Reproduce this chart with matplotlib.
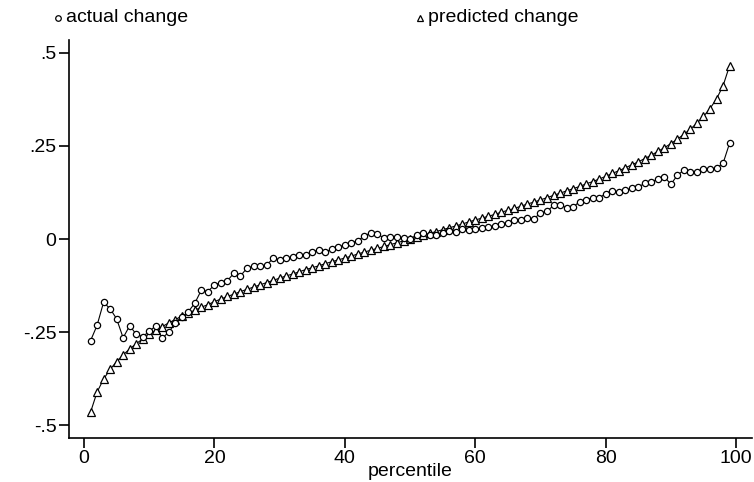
import matplotlib.pyplot as plt
from matplotlib.lines import Line2D

plt.rcParams['font.family'] = ['Liberation Sans', 'DejaVu Sans']

# percentile 1..99
percentile = list(range(1, 100))

# actual change (circles)
actual = [
    -0.273, -0.232, -0.170, -0.187, -0.214, -0.265, -0.233, -0.255, -0.262, -0.248,
    -0.233, -0.266, -0.250, -0.225, -0.210, -0.195, -0.172, -0.137, -0.141, -0.123,
    -0.117, -0.112, -0.091, -0.099, -0.078, -0.073, -0.073, -0.070, -0.052, -0.055,
    -0.052, -0.047, -0.043, -0.043, -0.034, -0.030, -0.034, -0.028, -0.021, -0.017,
    -0.011, -0.004, 0.008, 0.017, 0.013, 0.003, 0.006, 0.005, 0.003, 0.001,
    0.010, 0.015, 0.012, 0.012, 0.015, 0.022, 0.018, 0.026, 0.024, 0.026,
    0.030, 0.032, 0.036, 0.040, 0.044, 0.052, 0.050, 0.056, 0.054, 0.070,
    0.074, 0.090, 0.092, 0.084, 0.086, 0.100, 0.106, 0.110, 0.110, 0.122,
    0.130, 0.126, 0.131, 0.136, 0.140, 0.149, 0.154, 0.160, 0.167, 0.147,
    0.171, 0.185, 0.180, 0.180, 0.189, 0.189, 0.190, 0.203, 0.257,
]

# predicted change (triangles)
predicted = [
    -0.465, -0.411, -0.376, -0.350, -0.329, -0.311, -0.295, -0.281, -0.268, -0.256,
    -0.245, -0.235, -0.225, -0.216, -0.207, -0.199, -0.191, -0.183, -0.176, -0.168,
    -0.161, -0.154, -0.148, -0.141, -0.135, -0.129, -0.123, -0.117, -0.111, -0.105,
    -0.099, -0.094, -0.088, -0.082, -0.077, -0.072, -0.066, -0.061, -0.056, -0.051,
    -0.046, -0.040, -0.035, -0.030, -0.025, -0.020, -0.015, -0.010, -0.005, 0.000,
    0.005, 0.010, 0.015, 0.020, 0.025, 0.030, 0.035, 0.040, 0.046, 0.051,
    0.056, 0.061, 0.066, 0.072, 0.077, 0.082, 0.088, 0.094, 0.099, 0.105,
    0.111, 0.117, 0.123, 0.129, 0.135, 0.141, 0.148, 0.154, 0.161, 0.168,
    0.176, 0.183, 0.191, 0.199, 0.207, 0.216, 0.225, 0.235, 0.245, 0.256,
    0.268, 0.281, 0.295, 0.311, 0.329, 0.350, 0.376, 0.411, 0.465,
]

xticks = [0, 20, 40, 60, 80, 100]
yticks = [-0.5, -0.25, 0, 0.25, 0.5]
ytick_labels = ['-.5', '-.25', '0', '.25', '.5']

fig = plt.figure(figsize=(7.54, 4.82), dpi=100)
ax = fig.add_axes([0.0915, 0.092, 0.9055, 0.825])

ax.plot(percentile, predicted, color='black', lw=0.8, marker='^', ms=5.5,
        mfc='white', mec='black', mew=0.9)
ax.plot(percentile, actual, color='black', lw=0.8, marker='o', ms=4.5,
        mfc='white', mec='black', mew=0.9)

ax.set_xlim(-2.3, 102.4)
ax.set_ylim(-0.533, 0.534)
ax.set_xticks(xticks)
ax.set_yticks(yticks)
ax.set_yticklabels(ytick_labels)
ax.tick_params(axis='both', labelsize=14, width=1.2, length=7, pad=2, color='black')
ax.spines['top'].set_visible(False)
ax.spines['right'].set_visible(False)
ax.spines['left'].set_linewidth(1.2)
ax.spines['bottom'].set_linewidth(1.2)
ax.set_xlabel('percentile', fontsize=14, labelpad=-3)

# legend across the top
fig.add_artist(Line2D([0.077], [0.963], transform=fig.transFigure, marker='o',
                      ms=4, mfc='white', mec='black', mew=0.9, lw=0))
fig.text(0.088, 0.963, 'actual change', fontsize=14, va='center')
fig.add_artist(Line2D([0.557], [0.963], transform=fig.transFigure, marker='^',
                      ms=4.5, mfc='white', mec='black', mew=0.9, lw=0))
fig.text(0.568, 0.963, 'predicted change', fontsize=14, va='center')

fig.savefig('out.png', dpi=100)
